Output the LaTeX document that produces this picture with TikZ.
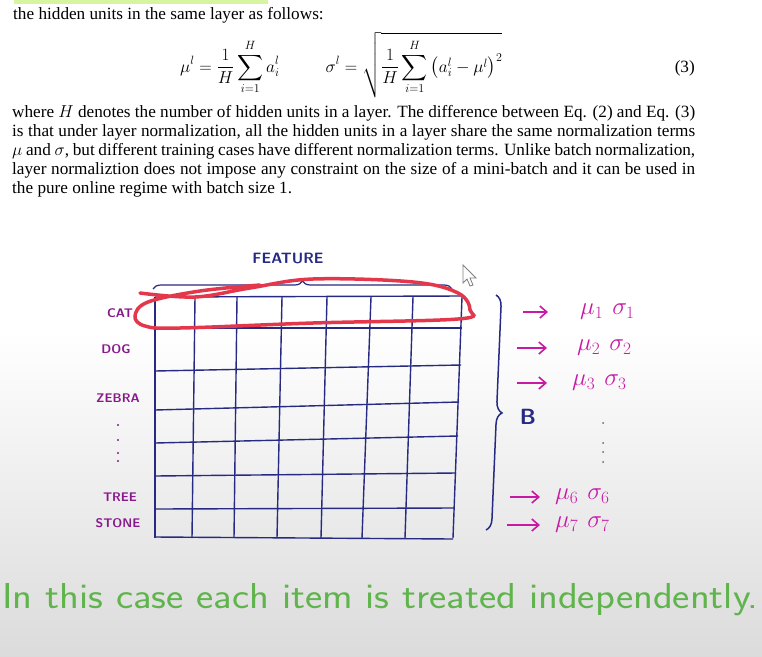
\documentclass[tikz,border=0pt]{standalone}
\usepackage{fontspec}
\setmainfont{Liberation Serif}
\usepackage{amsmath, amssymb}
\usetikzlibrary{decorations.pathreplacing}
\usetikzlibrary{arrows.meta}

\begin{document}
\begin{tikzpicture}[x=1pt, y=-1pt,
    paper/.style={anchor=base west, inner sep=0pt, font=\fontsize{17.2}{19}\selectfont},
    handlabel/.style={text=labelpurple, inner sep=0pt, font=\sffamily\bfseries\fontsize{12.5}{13}\selectfont},
    stat/.style={text=statmagenta, anchor=west, inner sep=0pt, font=\fontsize{24}{24}\selectfont},
    handarr/.style={statmagenta, line width=1.6pt, -{Straight Barb[length=7pt, width=12pt]}},
    gridline/.style={gridblue, line width=1.4pt}]

                    % 色の設定
                    \definecolor{gridblue}{RGB}{38, 42, 130}
                    \definecolor{labelpurple}{RGB}{135, 25, 140}
                    \definecolor{statmagenta}{RGB}{200, 25, 165}
                    \definecolor{circred}{RGB}{228, 55, 75}
                    \definecolor{notegreen}{RGB}{95, 180, 75}
                    \definecolor{hlgreen}{RGB}{215, 245, 160}
                    \useasboundingbox (0,0) rectangle (762,656);

                    % 背景（下の方は灰色）
                    \fill[white] (0,0) rectangle (762,656);
                    \shade[top color=white, bottom color=black!14] (0,330) rectangle (762,656);
                    \fill[hlgreen] (14,0) rectangle (268,4);

                    % 論文の文章と式
                    \node[paper] (lineA) at (13,19) {the hidden units in the same layer as follows:};
                    \node[anchor=base west, inner sep=0pt, font=\fontsize{18}{19}\selectfont] (eqn) at (180,72)
                        {$\displaystyle \mu^l=\frac{1}{H}\sum_{i=1}^{H}a_i^l\hspace{46pt}\sigma^l=\sqrt{\frac{1}{H}\sum_{i=1}^{H}\left(a_i^l-\mu^l\right)^2}$};
                    \node[anchor=base east, inner sep=0pt, font=\fontsize{17.2}{19}\selectfont] (eqnum) at (695,72) {(3)};
                    \node[paper] (lineB) at (12,117) {\makebox[683pt][s]{where $H$ denotes the number of hidden units in a layer. The difference between Eq. (2) and Eq. (3)}};
                    \node[paper] (lineC) at (12,136) {\makebox[683pt][s]{is that under layer normalization, all the hidden units in a layer share the same normalization terms}};
                    \node[paper] (lineD) at (12,155) {\makebox[683pt][s]{$\mu$ and $\sigma$, but different training cases have different normalization terms. Unlike batch normalization,}};
                    \node[paper] (lineE) at (12,174) {\makebox[683pt][s]{layer normaliztion does not impose any constraint on the size of a mini-batch and it can be used in}};
                    \node[paper] (lineF) at (12,193) {the pure online regime with batch size 1.};

                    % 表の線（手書きなので少し傾いている）
                    \foreach \yl/\xr/\yr in {297/463/296, 328/462/328, 371/461/365, 410/459/402, 443/458/436, 476/456/473, 509/454/508, 537/453/539}
                        \draw[gridline] (155,\yl) -- (\xr,\yr);
                    \foreach \xt/\xb in {155/155, 195/192, 237/234, 282/277, 327/321, 371/362, 413/405, 462/453}
                        \draw[gridline] (\xt,297) -- (\xb,538);

                    % 行のラベル
                    \node[handlabel] (cat) at (120,313) {CAT};
                    \node[handlabel] (dog) at (116,349) {DOG};
                    \node[handlabel] (zebra) at (118,398) {ZEBRA};
                    \node[handlabel] (tree) at (120,497) {TREE};
                    \node[handlabel] (stone) at (118,523) {STONE};
                    \foreach \y in {425,440,453,461}
                        \fill[labelpurple] (118,\y) circle (1.2);

                    % 上の括弧と FEATURE
                    \node[text=gridblue, inner sep=0pt, font=\sffamily\bfseries\fontsize{15}{15}\selectfont] (feature) at (288,258) {FEATURE};
                    \draw[gridblue, line width=1.2pt, decorate, decoration={brace, amplitude=8pt}] (153,289) -- (452,289);

                    % 一行目を囲む赤い線
                    \draw[circred, line width=3.5pt, line cap=round] plot[smooth, tension=0.6] coordinates
                        {(140,293) (195,297) (250,288) (313,279) (413,282) (458,293) (470,310) (458,319) (313,323) (180,328) (145,326) (135,316) (148,302) (200,291) (260,285)};

                    % マウスカーソル
                    \draw[gray, fill=white, line width=0.8pt] (463,265) -- (463,283) -- (467,279) -- (470,286) -- (473,285) -- (470,278) -- (476,278) -- cycle;

                    % 右の括弧と B
                    \draw[gridblue, line width=1.5pt, decorate, decoration={brace, amplitude=11pt}] (496,295) -- (486,530);
                    \node[text=gridblue, inner sep=0pt, font=\sffamily\bfseries\fontsize{22}{22}\selectfont] (batch) at (528,417) {B};

                    % 各行の平均と分散
                    \foreach \n/\ya/\xa/\xs/\g in {1/312/523/580/32, 2/348/517/577/30, 3/383/517/572/25, 6/497/510/555/15, 7/525/507/555/15} {
                        \node[stat] (stat\n) at (\xs,\ya) {$\mu_{\n}\hspace{9pt}\sigma_{\n}$};
                        \coordinate (tail\n) at (\xa,\ya);
                        \draw[handarr] (tail\n) -- ([xshift=-\g pt]stat\n.west);
                    }
                    \foreach \y in {423,443,452,462}
                        \fill[black!60] (603,\y) circle (1);

                    % 下のメモ
                    \node[text=notegreen, anchor=west, inner sep=0pt, font=\sffamily\fontsize{36}{36}\selectfont] (note) at (2,600)
                        {\scalebox{1.14}[1]{In this case each item is treated independently.}};

\end{tikzpicture}
\end{document}
